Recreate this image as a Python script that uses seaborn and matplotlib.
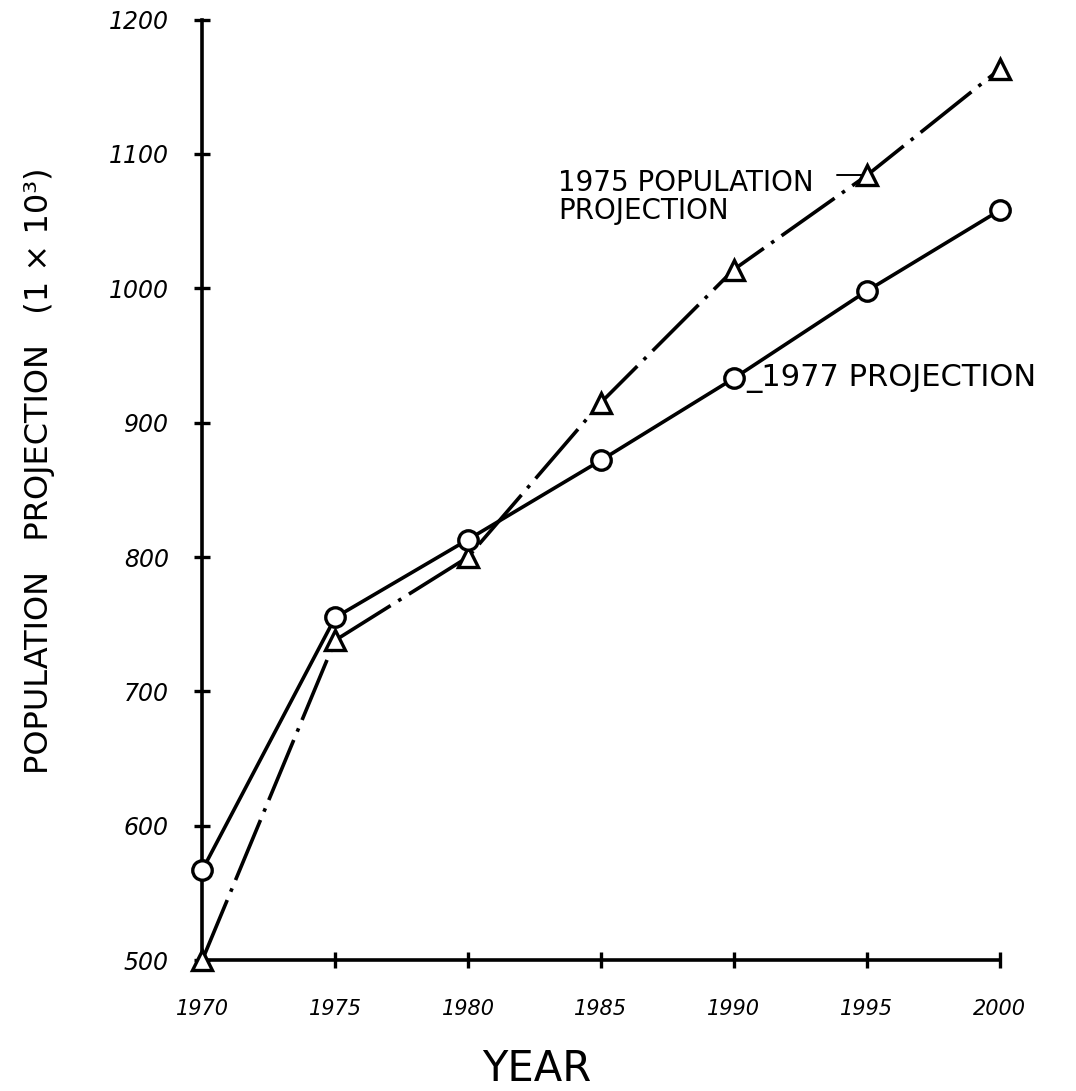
import matplotlib
matplotlib.use("Agg")
import matplotlib.pyplot as plt
import seaborn as sns
import pandas as pd

# Population projections (thousands)
years = [1970, 1975, 1980, 1985, 1990, 1995, 2000]
proj_1975 = [500, 738, 800, 915, 1014, 1084, 1163]
proj_1977 = [567, 755, 813, 872, 933, 998, 1058]
y_ticks = [500, 600, 700, 800, 900, 1000, 1100, 1200]

sns.set_theme(style="white")
plt.rcParams['font.family'] = ['DejaVu Sans']
plt.rcParams['text.color'] = 'black'
plt.rcParams['axes.labelcolor'] = 'black'

df75 = pd.DataFrame({"year": years, "pop": proj_1975})
df77 = pd.DataFrame({"year": years, "pop": proj_1977})

fig = plt.figure(figsize=(10.76, 10.91), dpi=100)
ax = fig.add_axes([0.188, 0.12, 0.741, 0.862])

sns.lineplot(data=df75, x="year", y="pop", ax=ax, color="black", lw=2.6,
             linestyle=(0, (18, 2.5, 1, 2.5)), marker="^", markersize=15,
             markerfacecolor="white", markeredgecolor="black",
             markeredgewidth=2.4, clip_on=False, zorder=3)
sns.lineplot(data=df77, x="year", y="pop", ax=ax, color="black", lw=2.6,
             marker="o", markersize=14, markerfacecolor="white",
             markeredgecolor="black", markeredgewidth=2.4,
             clip_on=False, zorder=4)

ax.set_xlim(1970, 2000)
ax.set_ylim(500, 1200)
ax.set_xticks(years)
ax.set_yticks(y_ticks)
ax.set_xticklabels([str(y) for y in years], fontsize=15, fontstyle="italic")
ax.set_yticklabels([str(v) for v in y_ticks], fontsize=17, fontstyle="italic")
ax.tick_params(axis="both", direction="inout", length=12, width=2.4,
               color="black", labelcolor="black", bottom=True, left=True)
ax.tick_params(axis="y", pad=18)
ax.tick_params(axis="x", pad=22)

for side in ("top", "right"):
    ax.spines[side].set_visible(False)
for side in ("left", "bottom"):
    ax.spines[side].set_linewidth(2.6)
    ax.spines[side].set_color("black")

ax.set_xlabel("YEAR", fontsize=30)
ax.xaxis.set_label_coords(0.42, -0.093)
ax.set_ylabel("POPULATION   PROJECTION   (1 × 10³)", fontsize=23)
ax.yaxis.set_label_coords(-0.185, 0.52)

ax.text(1983.4, 1068, "1975 POPULATION\nPROJECTION", fontsize=20,
        ha="left", va="center", linespacing=1.0)
ax.plot([1993.9, 1995.0], [1084, 1084], color="black", lw=1.4)
ax.text(1990.45, 933, "_1977 PROJECTION", fontsize=22, ha="left", va="center")

fig.savefig("out.png", dpi=100)
